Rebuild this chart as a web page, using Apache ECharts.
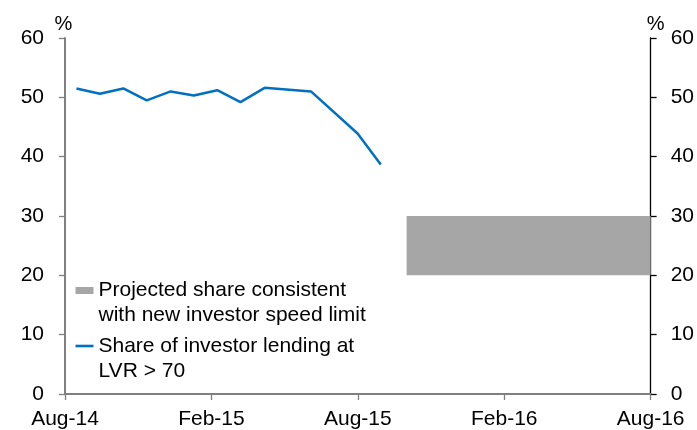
<!DOCTYPE html>
<html>
<head>
<meta charset="utf-8">
<script src="https://cdn.jsdelivr.net/npm/echarts@6/dist/echarts.min.js"></script>
<style>
  html, body { margin: 0; padding: 0; background: #fff; }
  #chart { width: 697px; height: 430px; }
</style>
</head>
<body>
<div id="chart"></div>
<script>
const tickLabels = ['Aug-14', 'Feb-15', 'Aug-15', 'Feb-16', 'Aug-16']
const yTicks = [0, 10, 20, 30, 40, 50, 60]
// observation position, in months after Aug-14
const lendingMonths = [0.47, 1.43, 2.39, 3.35, 4.33, 5.28, 6.24, 7.19, 8.18, 10.08, 11.99, 12.94]
const lendingShare = [51.5, 50.6, 51.5, 49.5, 51.0, 50.3, 51.2, 49.2, 51.6, 51.0, 43.9, 38.7]
// projection band: Oct-15 to Aug-16, 20 to 30 per cent
const projectedMonths = [14, 24]
const projectedShare = [20, 30]
const seriesNames = [
  'Projected share consistent\nwith new investor speed limit',
  'Share of investor lending at\nLVR > 70',
]

const FONT = "'Liberation Sans', Arial, sans-serif"
const GREY_AXIS = '#808080'

const chart = echarts.init(document.getElementById('chart'), null, { renderer: 'canvas' })

const yAxisBase = (side) => ({
  type: 'value',
  position: side,
  min: yTicks[0],
  max: yTicks[yTicks.length - 1],
  interval: 10,
  name: '%',
  nameLocation: 'end',
  nameGap: 4,
  nameTextStyle: { color: '#000', fontSize: 20, fontFamily: FONT, padding: side === 'right' ? [0, 0, 0, 10] : [0, 3, 0, 0] },
  axisLine: { show: true, lineStyle: { color: side === 'left' ? GREY_AXIS : '#000', width: side === 'left' ? 2 : 1.3 } },
  axisTick: { show: true, inside: false, length: 6, lineStyle: { color: side === 'left' ? GREY_AXIS : '#000', width: 1.3 } },
  axisLabel: { color: '#000', fontSize: 21, fontFamily: FONT, margin: side === 'left' ? 21 : 20 },
  splitLine: { show: false },
})

chart.setOption({
  animation: false,
  backgroundColor: '#fff',
  grid: { left: 65, right: 44, top: 38, bottom: 36 },
  legend: {
    orient: 'vertical',
    left: 75.5,
    top: 253,
    padding: 0,
    itemWidth: 18,
    itemHeight: 7,
    itemGap: -19.5,
    selectedMode: false,
    // blank first line keeps the icon level with the first line of text
    formatter: (name) => ' \n' + name,
    textStyle: { color: '#000', fontSize: 21, fontFamily: FONT, lineHeight: 25 },
    data: [
      { name: seriesNames[0], icon: 'rect' },
      { name: seriesNames[1], icon: 'path://M0,0L0,0M0,2.2L18,2.2L18,4.8L0,4.8ZM18,7L18,7' },
    ],
  },
  xAxis: {
    type: 'value',
    min: 0,
    max: 24,
    interval: 6,
    axisLine: { show: true, onZero: false, lineStyle: { color: GREY_AXIS, width: 2 } },
    axisTick: { show: true, inside: false, length: 6, lineStyle: { color: GREY_AXIS, width: 1.3 } },
    axisLabel: {
      color: '#000',
      fontSize: 21,
      fontFamily: FONT,
      margin: 15,
      formatter: (v) => tickLabels[Math.round(v / 6)] || '',
    },
    splitLine: { show: false },
  },
  yAxis: [yAxisBase('left'), yAxisBase('right')],
  series: [
    {
      name: seriesNames[0],
      type: 'custom',
      color: '#a6a6a6',
      encode: { x: [0, 1], y: [2, 3] },
      data: [[projectedMonths[0], projectedMonths[1], projectedShare[0], projectedShare[1]]],
      renderItem: (params, api) => {
        const topLeft = api.coord([api.value(0), api.value(3)])
        const bottomRight = api.coord([api.value(1), api.value(2)])
        return {
          type: 'rect',
          shape: {
            x: topLeft[0],
            y: topLeft[1],
            width: bottomRight[0] - topLeft[0],
            height: bottomRight[1] - topLeft[1],
          },
          style: { fill: '#a6a6a6' },
        }
      },
      z: 1,
    },
    {
      name: seriesNames[1],
      type: 'line',
      color: '#0070c0',
      symbol: 'none',
      lineStyle: { color: '#0070c0', width: 2.5 },
      data: lendingMonths.map((m, i) => [m, lendingShare[i]]),
      z: 3,
    },
  ],
})
</script>
</body>
</html>
